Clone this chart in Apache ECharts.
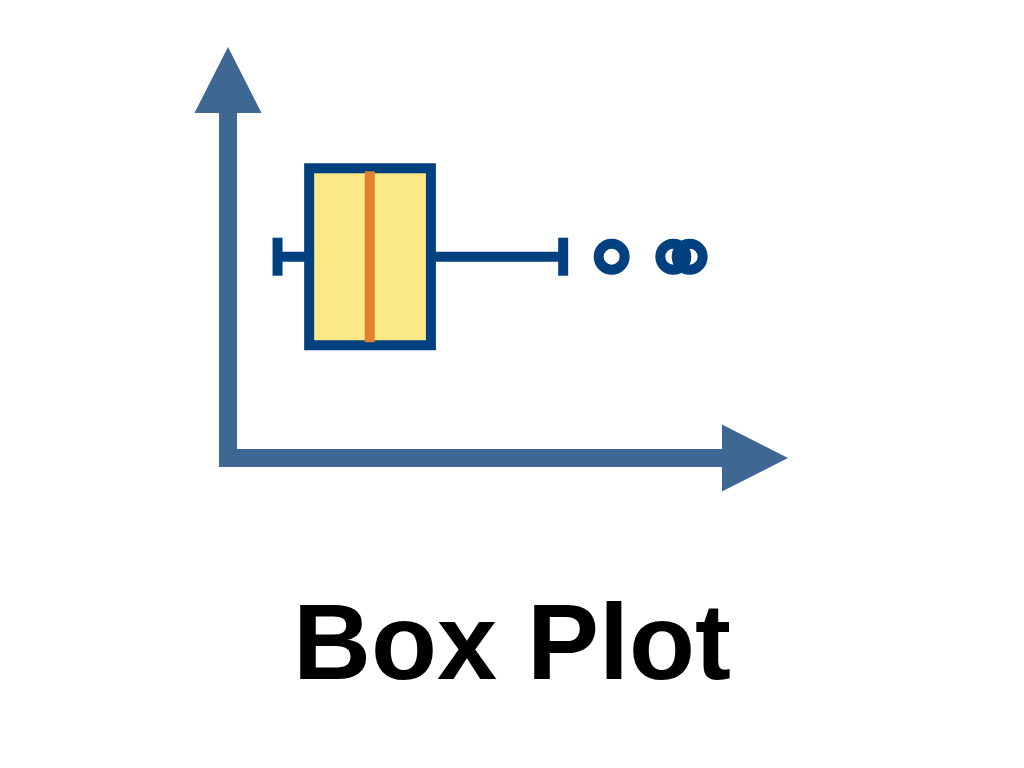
<!DOCTYPE html>
<html>
<head>
<meta charset="utf-8">
<script src="https://cdn.jsdelivr.net/npm/echarts@6/dist/echarts.min.js"></script>
<style>
  html, body { margin: 0; padding: 0; background: #ffffff; }
  #chart { width: 1024px; height: 768px; }
</style>
</head>
<body>
<div id="chart"></div>
<script>
// ---- data ----
const titleText = 'Box Plot';
// box statistics: [low whisker, Q1, median, Q3, high whisker]
const boxStats = [0.94, 1.54, 2.69, 3.85, 6.36];
// outlier values
const outliers = [7.28, 8.45, 8.76];

// ---- layout constants ----
const BOX_Y = 5.325;          // vertical position of the box on the hidden y scale
const AXIS_COLOR = '#3F6794';
const EDGE_COLOR = '#02407F';
const FILL_COLOR = '#FAE986';
const MEDIAN_COLOR = '#E0812F';

const chart = echarts.init(document.getElementById('chart'));

const axisCommon = {
  type: 'value',
  min: 0,
  max: 10,
  axisLabel: { show: false },
  axisTick: { show: false },
  splitLine: { show: false },
  axisLine: {
    show: true,
    symbol: ['none', 'triangle'],
    symbolSize: [67, 66],
    lineStyle: { color: AXIS_COLOR, width: 18, cap: 'square' }
  }
};

chart.setOption({
  animation: false,
  backgroundColor: '#ffffff',
  title: {
    text: titleText,
    left: 'center',
    top: 590,
    textStyle: {
      fontFamily: 'Liberation Sans',
      fontWeight: 'bold',
      fontSize: 108,
      color: '#000000'
    }
  },
  grid: { left: 228, right: 269, top: 80, bottom: 310 },
  xAxis: Object.assign({}, axisCommon),
  yAxis: Object.assign({}, axisCommon),
  series: [
    {
      type: 'custom',
      data: [boxStats],
      encode: { x: [0, 1, 2, 3, 4] },
      renderItem: function (params, api) {
        const lo = api.coord([api.value(0), BOX_Y]);
        const q1 = api.coord([api.value(1), BOX_Y]);
        const md = api.coord([api.value(2), BOX_Y]);
        const q3 = api.coord([api.value(3), BOX_Y]);
        const hi = api.coord([api.value(4), BOX_Y]);
        const cy = lo[1];
        const boxH = 177;
        const capH = 38;
        const medH = 171;
        const lw = 10;
        const stroke = { stroke: EDGE_COLOR, lineWidth: lw, fill: null };
        return {
          type: 'group',
          children: [
            { type: 'line', shape: { x1: lo[0], y1: cy, x2: q1[0], y2: cy }, style: stroke },
            { type: 'line', shape: { x1: q3[0], y1: cy, x2: hi[0], y2: cy }, style: stroke },
            { type: 'line', shape: { x1: lo[0], y1: cy - capH / 2, x2: lo[0], y2: cy + capH / 2 }, style: stroke },
            { type: 'line', shape: { x1: hi[0], y1: cy - capH / 2, x2: hi[0], y2: cy + capH / 2 }, style: stroke },
            {
              type: 'rect',
              shape: { x: q1[0], y: cy - boxH / 2, width: q3[0] - q1[0], height: boxH },
              style: { fill: FILL_COLOR, stroke: EDGE_COLOR, lineWidth: lw }
            },
            {
              type: 'line',
              shape: { x1: md[0], y1: cy - medH / 2, x2: md[0], y2: cy + medH / 2 },
              style: { stroke: MEDIAN_COLOR, lineWidth: lw }
            }
          ]
        };
      }
    },
    {
      type: 'scatter',
      data: outliers.map(function (v) { return [v, BOX_Y]; }),
      symbol: 'circle',
      symbolSize: 26,
      itemStyle: {
        color: 'rgba(0,0,0,0)',
        borderColor: EDGE_COLOR,
        borderWidth: 10,
        opacity: 1
      },
      z: 3
    }
  ]
});
</script>
</body>
</html>
